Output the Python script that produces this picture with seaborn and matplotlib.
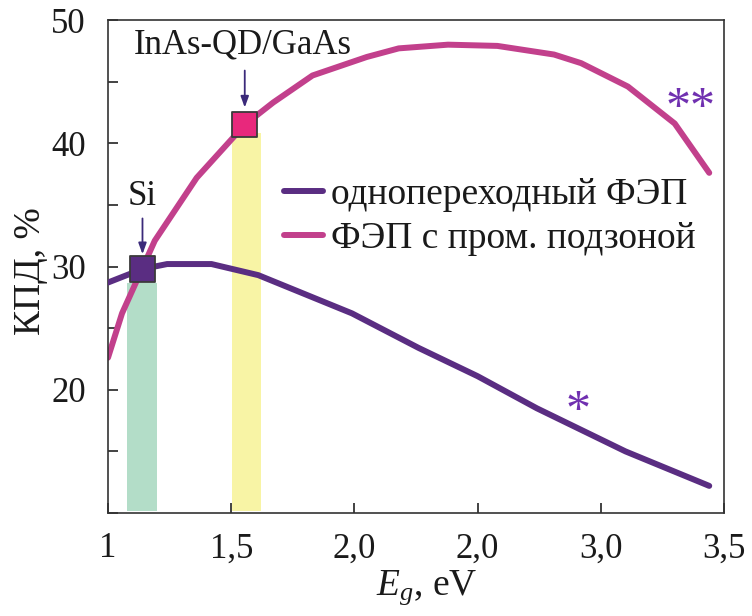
import matplotlib
matplotlib.use("Agg")
import matplotlib.pyplot as plt
import seaborn as sns
import pandas as pd
from matplotlib.ticker import MultipleLocator, FixedLocator

# Efficiency vs band gap: single-junction cell and intermediate-band cell
eg_single = [1.00, 1.14, 1.24, 1.42, 1.61, 1.99, 2.26, 2.50, 2.74, 3.10, 3.44]
eff_single = [28.7, 29.8, 30.2, 30.2, 29.3, 26.2, 23.4, 21.1, 18.5, 15.0, 12.2]

eg_ib = [1.00, 1.057, 1.19, 1.36, 1.555, 1.67, 1.83, 2.05, 2.18, 2.38, 2.58, 2.81, 2.92, 3.11, 3.30, 3.44]
eff_ib = [22.6, 26.2, 32.1, 37.2, 41.5, 43.3, 45.5, 47.0, 47.7, 48.0, 47.9, 47.2, 46.5, 44.6, 41.6, 37.6]

label_single = "однопереходный ФЭП"
label_ib = "ФЭП с пром. подзоной"

# Materials: band-gap band, efficiency marker
materials = ["Si", "InAs-QD/GaAs"]
mat_eg = [1.14, 1.555]
mat_eff = [29.8, 41.5]
band_center = [1.138, 1.563]
band_width = [0.122, 0.118]
band_top = [28.7, 40.8]
band_bottom = 10.15

xticks = [1.0, 1.5, 2.0, 2.5, 3.0, 3.5]
xtick_labels = ["1", "1,5", "2,0", "2,0", "3,0", "3,5"]
yticks = [20, 30, 40, 50]

sns.set_theme(style="ticks")
plt.rcParams["font.family"] = ["Liberation Serif", "DejaVu Serif"]
plt.rcParams["mathtext.fontset"] = "custom"
plt.rcParams["mathtext.it"] = "Liberation Serif:italic"
plt.rcParams["mathtext.rm"] = "Liberation Serif"

purple = "#5a2d82"
pink = "#c2408c"
edge = "#3a3a3a"
arrow_c = "#3b2a7a"
star_c = "#7030b0"
ink = "#1a1a1a"

fig = plt.figure(figsize=(7.52, 6.16), dpi=100)
ax = fig.add_axes([0.1436, 0.1672, 0.8192, 0.8003])

# band-gap bands
ax.bar(band_center, [t - band_bottom for t in band_top], width=band_width,
       bottom=band_bottom, color=["#b3ddc8", "#f8f4a5"], edgecolor="none", zorder=1)

df_s = pd.DataFrame({"Eg": eg_single, "eff": eff_single})
df_i = pd.DataFrame({"Eg": eg_ib, "eff": eff_ib})
sns.lineplot(data=df_s, x="Eg", y="eff", color=purple, lw=4.3, ax=ax,
             label=label_single, zorder=3)
sns.lineplot(data=df_i, x="Eg", y="eff", color=pink, lw=4.3, ax=ax,
             label=label_ib, zorder=2)

# material markers
ax.scatter(mat_eg, mat_eff, marker="s", s=330, c=[purple, "#e8287c"],
           edgecolors=edge, linewidths=1.3, zorder=5)

# labels with arrows
text_pos = [(1.14, 35.7), (1.545, 48.0)]
arrow_from = [33.9, 45.9]
arrow_to = [31.0, 42.9]
for name, x, (tx, ty), y0, y1 in zip(materials, mat_eg, text_pos, arrow_from, arrow_to):
    ax.text(tx, ty, name, ha="center", va="center", fontsize=25, color=ink)
    ax.annotate("", xy=(x, y1), xytext=(x, y0),
                arrowprops=dict(arrowstyle="-|>,head_length=0.55,head_width=0.2",
                                color=arrow_c, lw=1.3, shrinkA=0, shrinkB=0),
                zorder=6)

ax.text(2.906, 18.2, "*", ha="center", va="center", fontsize=36, color=star_c)
ax.text(3.366, 42.8, "**", ha="center", va="center", fontsize=36, color=star_c)

ax.set_xlim(1.0, 3.5)
ax.set_ylim(10, 50)
ax.xaxis.set_major_locator(FixedLocator(xticks))
ax.set_xticklabels(xtick_labels)
ax.yaxis.set_major_locator(FixedLocator(yticks))
ax.yaxis.set_minor_locator(MultipleLocator(5))
ax.tick_params(axis="both", which="both", direction="in", length=7, width=1.2,
               color="#222222", labelsize=25, labelcolor=ink, pad=16)
ax.tick_params(axis="x", pad=14)
for s in ax.spines.values():
    s.set_color("#333333")
    s.set_linewidth(1.2)

ax.set_xlabel("$E_g$, eV", fontsize=27, color=ink)
ax.xaxis.set_label_coords(0.518, -0.112)
ax.set_ylabel("КПД, %", fontsize=27, color=ink)
ax.yaxis.set_label_coords(-0.098, 0.49)

leg = ax.legend(loc="upper left", bbox_to_anchor=(0.285, 0.68), frameon=False,
                fontsize=27, handlelength=1.05, handletextpad=0.22,
                labelspacing=0.25, borderaxespad=0, borderpad=0)
for t in leg.get_texts():
    t.set_color(ink)

fig.savefig("out.png", dpi=100)
